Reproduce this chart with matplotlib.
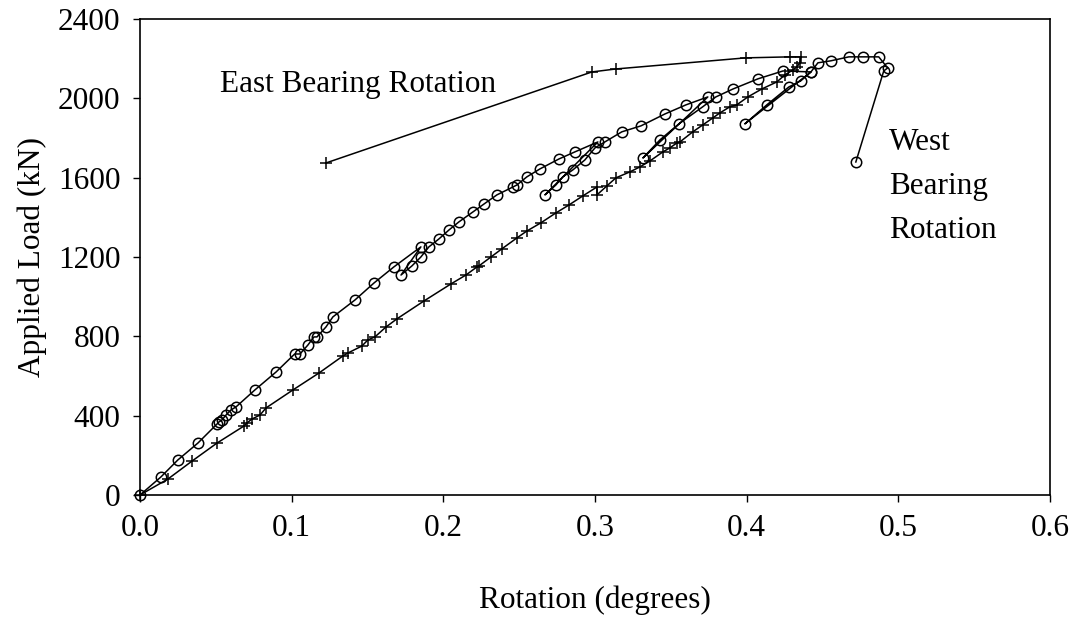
import matplotlib
matplotlib.use("Agg")
import matplotlib.pyplot as plt

plt.rcParams['font.family'] = ['Liberation Serif', 'DejaVu Serif']

# West bearing (circles) - rotation in degrees, load in kN
west_rot = [0.0, 0.0138, 0.0250, 0.0382, 0.0508, 0.052, 0.054, 0.0567, 0.060, 0.0633,
            0.0758, 0.0897, 0.102, 0.1055, 0.1107, 0.1147, 0.1167, 0.1226, 0.1272, 0.1417,
            0.1543, 0.1674, 0.1852, 0.1721, 0.1793, 0.1852, 0.1905, 0.1971, 0.2037, 0.2103,
            0.2195, 0.2268, 0.2353, 0.2459, 0.2485, 0.2551, 0.2637, 0.2762, 0.2868, 0.3019,
            0.267, 0.2742, 0.2788, 0.2854, 0.2933, 0.300, 0.3065, 0.3177, 0.3303, 0.3461,
            0.360, 0.3744, 0.3316, 0.3428, 0.3553, 0.371, 0.3797, 0.391, 0.4074, 0.424,
            0.4424, 0.3988, 0.4133, 0.4278, 0.4357, 0.4424, 0.447, 0.4555, 0.4674, 0.4766,
            0.4871, 0.493, 0.4904, 0.472]
west_load = [0, 91, 177, 262, 358, 368, 378, 403, 429, 444,
             530, 620, 711, 711, 756, 797, 797, 847, 898, 983,
             1069, 1150, 1251, 1109, 1155, 1200, 1251, 1291, 1336, 1377,
             1427, 1467, 1513, 1553, 1563, 1604, 1644, 1694, 1730, 1780,
             1513, 1563, 1604, 1639, 1689, 1750, 1780, 1831, 1861, 1921,
             1967, 2007, 1699, 1790, 1871, 1957, 2007, 2047, 2098, 2138,
             2133, 1871, 1967, 2057, 2088, 2133, 2179, 2189, 2209, 2209,
             2209, 2153, 2138, 1679]

# East bearing (plus markers)
east_rot = [0.0, 0.0185, 0.0343, 0.0508, 0.0686, 0.0705, 0.0738, 0.0791, 0.0831, 0.1009,
            0.118, 0.1338, 0.1371, 0.1463, 0.1503, 0.1549, 0.1622, 0.1694, 0.1872, 0.205,
            0.2149, 0.2222, 0.2235, 0.2314, 0.2386, 0.2485, 0.2551, 0.2643, 0.2742, 0.2828,
            0.292, 0.3013, 0.3013, 0.3078, 0.3138, 0.323, 0.3296, 0.3362, 0.3448, 0.3494,
            0.354, 0.356, 0.3645, 0.3711, 0.3777, 0.3823, 0.3889, 0.3935, 0.4008, 0.41,
            0.42, 0.4252, 0.4305, 0.4331, 0.4351, 0.4357, 0.4285, 0.3995, 0.3138, 0.298,
            0.1226]
east_load = [0, 81, 171, 262, 348, 363, 383, 403, 439, 530,
             615, 701, 716, 751, 782, 797, 847, 888, 978, 1064,
             1109, 1150, 1155, 1200, 1241, 1296, 1331, 1372, 1422, 1462,
             1508, 1553, 1513, 1558, 1599, 1629, 1654, 1684, 1730, 1750,
             1775, 1780, 1831, 1866, 1901, 1926, 1957, 1967, 2007, 2047,
             2083, 2118, 2143, 2158, 2179, 2209, 2209, 2204, 2148, 2133,
             1674]

x_ticks = [0.0, 0.1, 0.2, 0.3, 0.4, 0.5, 0.6]
y_ticks = [0, 400, 800, 1200, 1600, 2000, 2400]

FS = 22.5

fig = plt.figure(figsize=(10.76, 6.2), dpi=100)
ax = fig.add_axes([0.1301, 0.2016, 0.8457, 0.7678])

ax.plot(east_rot, east_load, color='black', lw=1.1, marker='+', markersize=9,
        markeredgewidth=1.1, clip_on=False, zorder=3)
ax.plot(west_rot, west_load, color='black', lw=1.1, marker='o', markersize=7.5,
        markerfacecolor='none', markeredgewidth=1.1, clip_on=False, zorder=3)

ax.set_xlim(0, 0.6)
ax.set_ylim(0, 2400)
ax.set_xticks(x_ticks)
ax.set_xticklabels([f"{t:.1f}" for t in x_ticks])
ax.set_yticks(y_ticks)
ax.tick_params(direction='out', length=5, width=1, labelsize=FS, pad=9, colors='black')
for s in ax.spines.values():
    s.set_linewidth(1.2)
    s.set_color('black')

ax.set_xlabel("Rotation (degrees)", fontsize=FS, labelpad=30)
ax.set_ylabel("Applied Load (kN)", fontsize=FS, labelpad=8)

ax.text(0.0527, 2032, "East Bearing Rotation", fontsize=FS, ha='left', va='baseline')
ax.text(0.494, 1740, "West", fontsize=FS, ha='left', va='baseline')
ax.text(0.494, 1518, "Bearing", fontsize=FS, ha='left', va='baseline')
ax.text(0.494, 1296, "Rotation", fontsize=FS, ha='left', va='baseline')

fig.savefig("out.png", dpi=100)
